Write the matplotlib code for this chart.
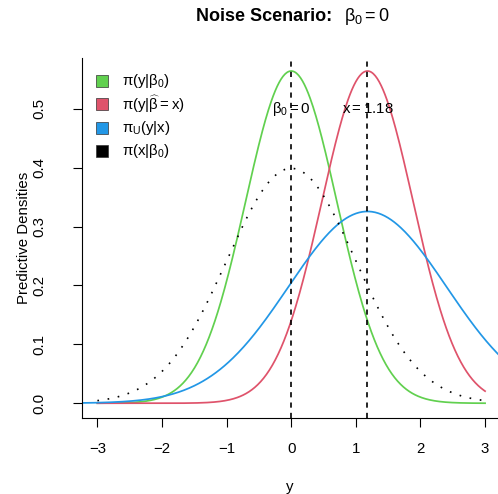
import numpy as np
import matplotlib
matplotlib.use("Agg")
import matplotlib.pyplot as plt
from matplotlib.patches import Rectangle

plt.rcParams['font.family'] = ['Liberation Sans', 'DejaVu Sans']
plt.rcParams['mathtext.fontset'] = 'custom'
plt.rcParams['mathtext.rm'] = 'Liberation Sans'
plt.rcParams['mathtext.it'] = 'Liberation Sans'
plt.rcParams['mathtext.bf'] = 'Liberation Sans:bold'
plt.rcParams['mathtext.sf'] = 'Liberation Sans'

# observed value and prior mean
beta0 = 0.0
x_obs = 1.18

# normal predictive densities: (centre, sd)
labels = [r'$\pi(y|\beta_0)$', r'$\pi(y|\widehat{\beta} = x)$',
          r'$\pi_{U}(y|x)$', r'$\pi(x|\beta_0)$']
centres = [beta0, x_obs, x_obs, beta0]
sds = [np.sqrt(0.5), np.sqrt(0.5), np.sqrt(1.5), 1.0]
colors = ['#61D04F', '#DF536B', '#2297E6', 'black']

xticks = [-3, -2, -1, 0, 1, 2, 3]
yticks = [0.0, 0.1, 0.2, 0.3, 0.4, 0.5]

W, H = 498, 494
FS = 10.8


def dnorm(y, m, s):
    return np.exp(-0.5 * ((y - m) / s) ** 2) / (s * np.sqrt(2 * np.pi))


fig = plt.figure(figsize=(W / 100, H / 100), dpi=100)
ax = fig.add_axes([0.164, 0.1545, 1.0 - 0.164, 0.8834 - 0.1545])

y = np.linspace(-3, 3, 400)
yu = np.linspace(-3.3, 3.3, 400)

ax.plot(y, dnorm(y, centres[0], sds[0]), color=colors[0], lw=1.25)
ax.plot(y, dnorm(y, centres[1], sds[1]), color=colors[1], lw=1.25)
ax.plot(yu, dnorm(yu, centres[2], sds[2]), color=colors[2], lw=1.25)
ax.plot(y, dnorm(y, centres[3], sds[3]), color=colors[3], lw=1.2,
        linestyle=(0, (1, 5.2)))

for v in [beta0, x_obs]:
    ax.axvline(v, color='black', lw=1.2, linestyle=(0, (3.1, 3.1)))

ax.text(beta0, 0.5, r'$\beta_0 = 0$', ha='center', va='center', fontsize=FS)
ax.text(x_obs, 0.5, r'$x = %.2f$' % x_obs, ha='center', va='center', fontsize=FS)

ax.set_xlim(-3.243, 3.20)
ax.set_ylim(-0.0245, 0.587)
ax.set_xticks(xticks)
ax.set_xticklabels([str(t).replace('-', '\u2212') for t in xticks])
ax.set_yticks(yticks)
ax.set_yticklabels(['%.1f' % t for t in yticks], rotation=90, va='center')
ax.tick_params(direction='out', length=6.5, width=0.8, labelsize=FS)
ax.tick_params(axis='x', pad=11)
ax.tick_params(axis='y', pad=19)
ax.spines['top'].set_visible(False)
ax.spines['right'].set_visible(False)

ax.set_xlabel('y', fontsize=FS, labelpad=17)
ax.set_ylabel('Predictive Densities', fontsize=FS, labelpad=1)

# legend drawn by hand, rows evenly spaced
row_y = [81, 104, 127.5, 151]
for c, lab, ry in zip(colors, labels, row_y):
    fig.patches.append(Rectangle((96 / W, 1 - (ry + 6) / H), 12 / W, 12 / H,
                                 transform=fig.transFigure, facecolor=c,
                                 edgecolor='#333333', linewidth=0.5))
    fig.text(121.5 / W, 1 - ry / H, lab, ha='left', va='center', fontsize=FS)

fig.text(332 / W, 1 - 16.5 / H, 'Noise Scenario:', ha='right', va='center',
         fontsize=13, fontweight='bold')
fig.text(344 / W, 1 - 16.5 / H, r'$\beta_0 = 0$', ha='left', va='center',
         fontsize=13)

fig.savefig('out.png', dpi=100)
